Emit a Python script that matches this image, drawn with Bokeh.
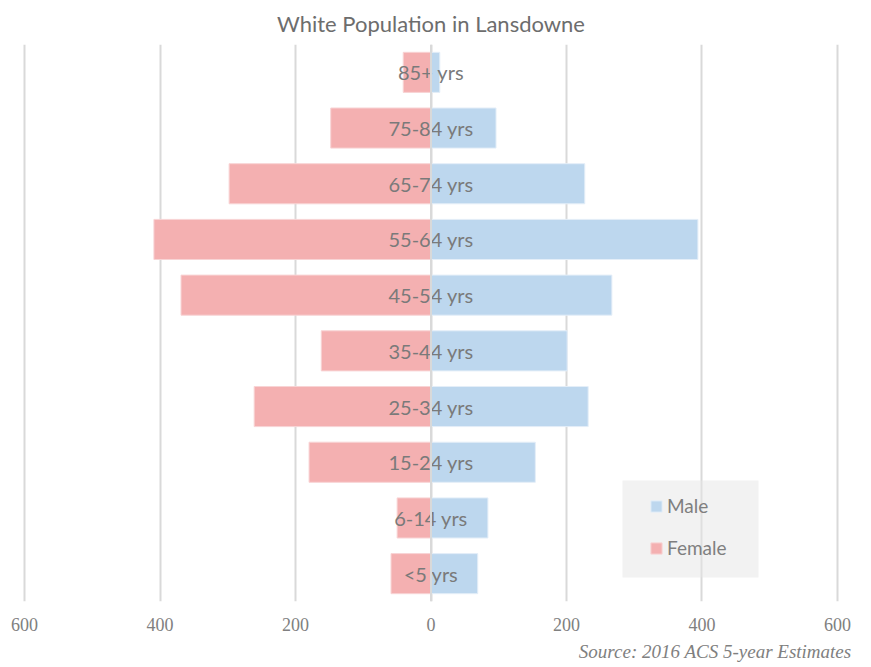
from bokeh.plotting import figure
from bokeh.models import (ColumnDataSource, FixedTicker, Span, Legend, LegendItem,
                          Title, Range1d, BoxAnnotation)
from bokeh.core.properties import value
from bokeh.embed import file_html
from bokeh.resources import INLINE

categories = ["<5 yrs", "6-14 yrs", "15-24 yrs", "25-34 yrs", "35-44 yrs",
              "45-54 yrs", "55-64 yrs", "65-74 yrs", "75-84 yrs", "85+ yrs"]
male = [69, 84, 154, 232, 201, 267, 394, 227, 96, 13]
female = [59, 50, 180, 261, 162, 369, 409, 298, 148, 41]
tick_values = [-600, -400, -200, 0, 200, 400, 600]
tick_labels = ["600", "400", "200", "0", "200", "400", "600"]
title_text = "White Population in Lansdowne"
source_text = "Source: 2016 ACS 5-year Estimates"

src = ColumnDataSource(dict(
    cat=categories,
    male=male,
    female_neg=[-v for v in female],
    zero=[0] * len(categories),
))

p = figure(width=871, height=667, y_range=categories,
           x_range=Range1d(-620.7, 620.7),
           output_backend="svg", toolbar_location=None,
           min_border_left=10, min_border_right=20, min_border_top=44,
           min_border_bottom=66)
p.y_range.range_padding = 0
p.outline_line_color = None
p.background_fill_color = "white"

MALE_C = "#bdd7ee"
FEMALE_C = "#f4b0b1"

rm = p.hbar(y="cat", left="zero", right="male", height=0.72, source=src,
            fill_color=MALE_C, line_color="#e4eef8", line_width=1)
rf = p.hbar(y="cat", left="female_neg", right="zero", height=0.72, source=src,
            fill_color=FEMALE_C, line_color="#f8d4d5", line_width=1)

p.add_layout(Span(location=0, dimension="height", line_color="#d9d9d9",
                  line_width=2))

p.text(x="zero", y="cat", text="cat", source=src, text_align="center",
       text_baseline="middle", text_color="#7a7a7a", text_font_size="20px",
       text_font=value("Lato"))

# axes
p.yaxis.visible = False
p.ygrid.visible = False
p.xaxis.ticker = FixedTicker(ticks=tick_values)
p.xaxis.major_label_overrides = {v: l for v, l in zip(tick_values, tick_labels)}
p.xaxis.axis_line_color = None
p.xaxis.major_tick_line_color = None
p.xaxis.minor_tick_line_color = None
p.xaxis.major_label_text_font = "Liberation Sans Narrow"
p.xaxis.major_label_text_font_size = "18px"
p.xaxis.major_label_text_color = "#808080"
p.xaxis.major_label_standoff = 10
p.xgrid.ticker = FixedTicker(ticks=tick_values)
p.xgrid.grid_line_color = "#d9d9d9"
p.xgrid.grid_line_width = 2

# title and source note
p.title = Title(text=title_text, align="center", vertical_align="top",
                text_font="Lato", text_font_size="22px",
                text_font_style="normal", text_color="#6d6d6d", standoff=12)

p.add_layout(Title(text=source_text, align="right", vertical_align="bottom",
                   text_font="Liberation Sans Narrow", text_font_size="19px",
                   text_font_style="italic", text_color="#808080",
                   standoff=10), "below")

# legend background panel
p.add_layout(BoxAnnotation(left=612, right=748, bottom=24, top=121,
                           left_units="screen", right_units="screen",
                           bottom_units="screen", top_units="screen",
                           fill_color="#e5e5e5", fill_alpha=0.5,
                           line_color=None))

legend = Legend(items=[LegendItem(label="Male", renderers=[rm]),
                       LegendItem(label="Female", renderers=[rf])],
                location=(639, 42), orientation="vertical",
                background_fill_alpha=0, border_line_color=None,
                padding=10, spacing=19,
                glyph_width=14, glyph_height=14, label_standoff=4,
                label_width=60, label_height=22,
                label_text_font="Lato", label_text_font_size="19px",
                label_text_color="#7f7f7f", margin=0)
p.add_layout(legend, "center")

open("out.html", "w").write(file_html(p, INLINE))
